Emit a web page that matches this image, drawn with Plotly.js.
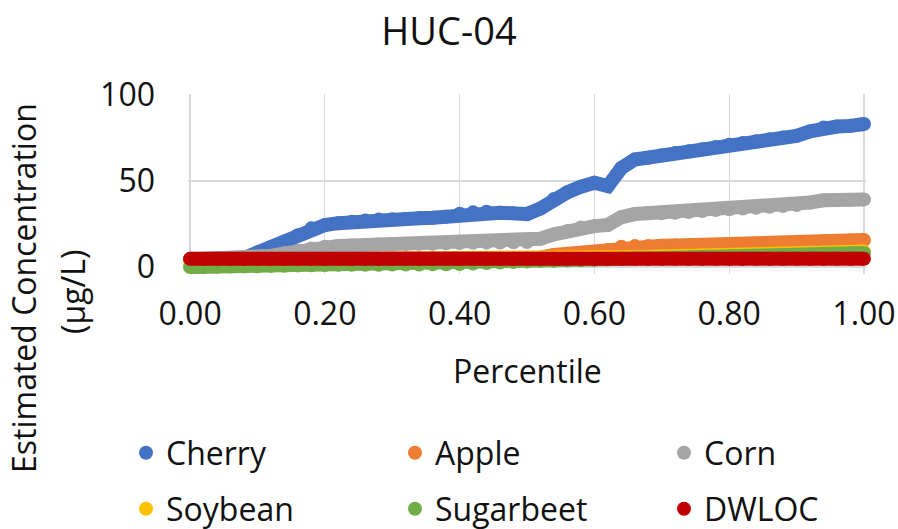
<!DOCTYPE html>
<html>
<head>
<meta charset="utf-8">
<script src="https://cdn.plot.ly/plotly-3.0.1.min.js"></script>
<style>html,body{margin:0;padding:0;background:#fff;}#chart{width:898px;height:529px;}</style>
</head>
<body>
<div id="chart"></div>
<script>
// Percentile positions
const percentile = [0.00,0.02,0.04,0.06,0.08,0.10,0.12,0.14,0.16,0.18,
  0.20,0.22,0.24,0.26,0.28,0.30,0.32,0.34,0.36,0.38,
  0.40,0.42,0.44,0.46,0.48,0.50,0.52,0.54,0.56,0.58,
  0.60,0.62,0.64,0.66,0.68,0.70,0.72,0.74,0.76,0.78,
  0.80,0.82,0.84,0.86,0.88,0.90,0.92,0.94,0.96,0.98,1.00];

const cherry = [4.5,4.6,4.7,4.8,5.2,8.5,11.5,14.7,18.5,22.5,
  24.4,25.5,26.3,27.0,27.6,27.8,28.0,28.3,28.6,29.3,
  31.0,31.8,32.2,31.6,31.2,30.8,34.0,39.5,43.5,46.7,
  49.0,47.0,57.5,62.5,63.5,65.0,66.2,67.3,68.4,69.8,
  71.0,72.0,73.1,74.2,75.3,76.2,78.8,81.0,81.6,82.0,83.1];

const apple = [4.5,4.5,4.5,4.5,4.5,4.5,4.5,4.5,4.5,4.5,
  4.5,4.5,4.5,4.5,4.5,4.5,4.5,4.5,4.5,4.5,
  4.5,4.5,4.5,4.5,4.6,4.8,5.5,7.0,7.8,8.4,
  8.9,10.0,11.8,12.2,12.3,12.4,12.5,12.6,12.7,12.8,
  12.9,13.1,13.3,13.5,13.8,14.0,14.5,15.0,15.3,15.5,15.7];

const corn = [4.5,4.5,4.6,4.7,4.8,5.0,6.5,8.0,9.5,10.8,
  11.8,12.3,12.6,12.9,13.1,13.3,13.4,13.5,13.6,13.8,
  14.0,14.1,14.2,14.3,14.4,14.6,16.5,19.0,21.0,23.0,
  23.8,24.5,29.0,30.8,31.2,31.3,31.5,32.0,32.6,33.1,
  33.6,34.0,34.5,35.0,35.5,36.0,37.5,38.8,39.0,39.1,39.3];

const soybean = [4.0,4.0,4.0,4.0,4.0,4.0,4.0,4.0,4.0,4.0,
  4.0,4.0,4.0,4.0,4.0,4.0,4.0,4.0,4.0,4.0,
  4.0,4.0,4.0,4.0,4.0,4.0,4.0,4.1,4.2,4.3,
  4.4,4.6,5.0,5.5,5.9,6.2,6.4,6.6,6.8,6.9,
  7.0,7.1,7.3,7.4,7.6,7.8,8.1,8.4,8.6,8.8,9.0];

const sugarbeet = [0.0,0.1,0.2,0.3,0.4,0.5,0.7,0.8,1.0,1.1,
  1.2,1.3,1.3,1.4,1.4,1.5,1.5,1.5,1.6,1.6,
  1.8,2.1,2.4,2.7,3.0,3.3,3.5,3.6,3.8,4.0,
  4.2,4.5,4.8,5.0,5.2,5.3,5.4,5.5,5.7,5.8,
  6.0,6.2,6.4,6.6,6.8,7.0,7.3,7.6,7.8,8.0,8.2];

const dwloc = [4.8,4.8,4.8,4.8,4.8,4.8,4.8,4.8,4.8,4.8,
  4.8,4.8,4.8,4.8,4.8,4.8,4.8,4.8,4.8,4.8,
  4.8,4.8,4.8,4.8,4.8,4.8,4.8,4.8,4.8,4.8,
  4.8,4.8,4.8,4.8,4.8,4.8,4.8,4.8,4.8,4.8,
  4.8,4.8,4.8,4.8,4.8,4.8,4.8,4.8,4.8,4.8,4.8];

const seriesNames = ["Cherry","Apple","Corn","Soybean","Sugarbeet","DWLOC"];
const seriesValues = [cherry, apple, corn, soybean, sugarbeet, dwloc];
const seriesColors = ["#4472C4","#ED7D31","#A5A5A5","#FFC000","#70AD47","#C00000"];
const xTickVals = [0,0.2,0.4,0.6,0.8,1.0];
const xTickText = ["0.00","0.20","0.40","0.60","0.80","1.00"];
const yTickVals = [0,50,100];

const FONT = "'Open Sans', 'Noto Sans', sans-serif";
const TXT = "#111111";
const FS = 32;

// plot box in pixels (for placing titles/legends in paper units)
const PL = 188, PR = 866, PT = 94, PB = 274;
const px = X => (X - PL) / (PR - PL);
const py = Y => (PB - Y) / (PB - PT);

const traces = [];
seriesNames.forEach((name, i) => {
  const leg = i < 3 ? "legend" : "legend2";
  traces.push({
    type: "scatter", mode: "lines", x: percentile, y: seriesValues[i],
    line: {color: seriesColors[i], width: 14}, showlegend: false,
    hoverinfo: "skip", legendgroup: name, legend: leg
  });
  traces.push({
    type: "scatter", mode: "markers", name: name, x: percentile, y: seriesValues[i],
    marker: {color: seriesColors[i], size: 14}, cliponaxis: false,
    legendgroup: name, legend: leg
  });
});

const legendCommon = {
  orientation: "h", xanchor: "left", yanchor: "middle",
  font: {family: FONT, size: FS, color: TXT},
  itemsizing: "trace", entrywidth: 224, entrywidthmode: "pixels",
  bgcolor: "rgba(0,0,0,0)", borderwidth: 0, tracegroupgap: 0
};

const layout = {
  width: 898, height: 529,
  margin: {l: PL, r: 898 - PR, t: PT, b: 529 - PB, autoexpand: false},
  paper_bgcolor: "#ffffff", plot_bgcolor: "#ffffff",
  font: {family: FONT, size: FS, color: TXT},
  title: {text: "HUC-04", font: {family: FONT, size: 38, color: TXT},
          x: 0.5, xanchor: "center", y: 1 - 32/529, yanchor: "middle", yref: "container"},
  xaxis: {
    range: [-0.003, 1.003], tickvals: xTickVals, ticktext: xTickText,
    showgrid: true, gridcolor: "#D9D9D9", gridwidth: 1.3,
    zeroline: false, showline: false, ticks: "",
    ticklabelstandoff: 18, tickfont: {family: FONT, size: FS, color: TXT}
  },
  yaxis: {
    range: [-4, 100.5], tickvals: yTickVals,
    showgrid: true, gridcolor: "#D9D9D9", gridwidth: 1.3,
    zeroline: false, showline: false, ticks: "",
    ticklabelstandoff: 32, tickfont: {family: FONT, size: FS, color: TXT}
  },
  legend: Object.assign({}, legendCommon, {x: px(126), y: py(453)}),
  legend2: Object.assign({}, legendCommon, {x: px(126), y: py(509)}),
  annotations: [
    {text: "Percentile", xref: "paper", yref: "paper", x: px(527), y: py(370),
     xanchor: "center", yanchor: "middle", showarrow: false,
     font: {family: FONT, size: FS, color: TXT}},
    {text: "Estimated Concentration", xref: "paper", yref: "paper",
     x: px(23), y: py(288), xanchor: "center", yanchor: "middle",
     textangle: -90, showarrow: false, font: {family: FONT, size: FS, color: TXT}},
    {text: "(µg/L)", xref: "paper", yref: "paper",
     x: px(72), y: py(292), xanchor: "center", yanchor: "middle",
     textangle: -90, showarrow: false, font: {family: FONT, size: FS, color: TXT}}
  ],
  showlegend: true
};

Plotly.newPlot("chart", traces, layout, {displayModeBar: false, staticPlot: true});
</script>
</body>
</html>
